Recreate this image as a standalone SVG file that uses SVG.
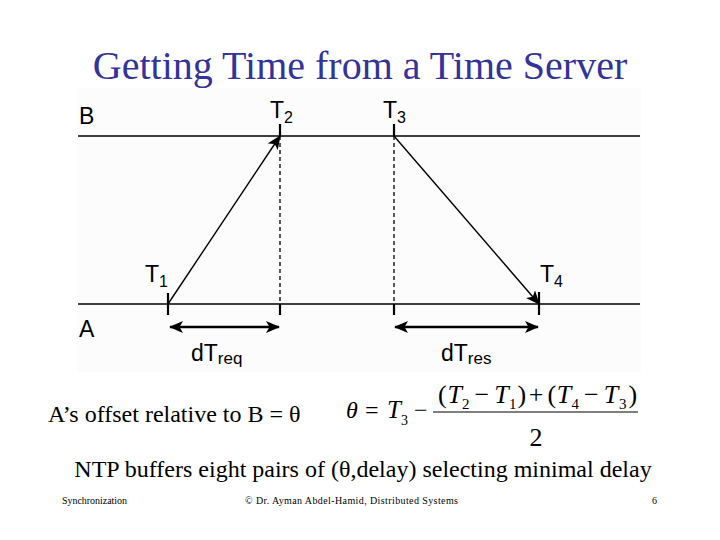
<svg xmlns="http://www.w3.org/2000/svg" width="720" height="540" viewBox="0 0 720 540">
<style>
.serif{font-family:"Liberation Serif","Times New Roman",serif;fill:#000}
.sans{font-family:"Liberation Sans",Arial,sans-serif;fill:#000}
.title{font-family:"Liberation Serif","Times New Roman",serif;fill:#333399;font-size:40px}
.lbl{font-size:23px}
.sub{font-size:16px}
.ax{stroke:#000;stroke-width:1.5;fill:none}
.tick{stroke:#000;stroke-width:2.2;fill:none}
.dash{stroke:#000;stroke-width:1.3;stroke-dasharray:4 3;fill:none}
.msg{stroke:#000;stroke-width:1.4;fill:none}
.span{stroke:#000;stroke-width:2.6;fill:none}
.it{font-style:italic}
.foot{font-size:10px}
</style>
<defs>
<marker id="ah" markerUnits="userSpaceOnUse" viewBox="0 0 14 12" refX="13" refY="6" markerWidth="14" markerHeight="12" orient="auto-start-reverse">
<path d="M0,0 L14,6 L0,12 L3.5,6 Z" fill="#000"/>
</marker>
</defs>
<rect width="720" height="540" fill="#fff"/>
<rect x="77" y="88" width="564" height="284" fill="#fcfcfc"/>

<g id="title"><text class="title" x="360" y="79" text-anchor="middle">Getting Time from a Time Server</text></g>

<g id="timelines">
<g id="lineB"><line class="ax" x1="78" y1="136" x2="640" y2="136"/><text class="sans" x="79" y="124" font-size="23">B</text></g>
<g id="lineA"><line class="ax" x1="78" y1="304" x2="640" y2="304"/><text class="sans" x="79" y="337" font-size="23">A</text></g>
</g>

<g id="T1"><line class="tick" x1="168" y1="293" x2="168" y2="315"/><text class="sans lbl" x="145" y="282">T<tspan class="sub" dy="5">1</tspan></text></g>
<g id="T2"><line class="tick" x1="280" y1="124" x2="280" y2="136"/><line class="dash" x1="280" y1="136" x2="280" y2="304"/><line class="tick" x1="280" y1="304" x2="280" y2="315"/><text class="sans lbl" x="270" y="118">T<tspan class="sub" dy="5">2</tspan></text></g>
<g id="T3"><line class="tick" x1="394" y1="124" x2="394" y2="136"/><line class="dash" x1="394" y1="136" x2="394" y2="304"/><line class="tick" x1="394" y1="304" x2="394" y2="315"/><text class="sans lbl" x="383" y="118">T<tspan class="sub" dy="5">3</tspan></text></g>
<g id="T4"><line class="tick" x1="539" y1="292" x2="539" y2="315"/><text class="sans lbl" x="540" y="282">T<tspan class="sub" dy="5">4</tspan></text></g>

<g id="connectors">
<line class="msg" x1="168" y1="304" x2="280" y2="136" marker-end="url(#ah)"/>
<line class="msg" x1="394" y1="136" x2="539" y2="304" marker-end="url(#ah)"/>
<line class="span" x1="170" y1="327" x2="279" y2="327" marker-start="url(#ah)" marker-end="url(#ah)"/>
<line class="span" x1="395" y1="327" x2="538" y2="327" marker-start="url(#ah)" marker-end="url(#ah)"/>
</g>

<g id="dTreq"><text class="sans" x="191" y="361" font-size="23">dT<tspan font-size="17" dy="3">req</tspan></text></g>
<g id="dTres"><text class="sans" x="441" y="361" font-size="23">dT<tspan font-size="17" dy="3">res</tspan></text></g>

<g id="offset"><text class="serif" x="48" y="422" font-size="24">A’s offset relative to B = θ</text></g>

<g id="formula" class="serif">
<text x="346" y="418" class="serif it" font-size="24">θ</text>
<text x="365" y="418" class="serif" font-size="24">=</text>
<text x="387" y="418" class="serif it" font-size="25">T</text>
<text x="401" y="425" class="serif" font-size="14">3</text>
<text x="414" y="418" class="serif" font-size="24">−</text>
<line x1="433" y1="412" x2="638" y2="412" stroke="#000" stroke-width="1"/>
<text class="serif" y="403" font-size="26"><tspan x="438">(</tspan><tspan x="447.4" class="it">T</tspan><tspan x="462" y="409" font-size="15">2</tspan><tspan x="474.5" y="403">−</tspan><tspan x="494.3" class="it">T</tspan><tspan x="509" y="409" font-size="15">1</tspan><tspan x="517.5" y="403">)</tspan><tspan x="528.8">+</tspan><tspan x="547.4">(</tspan><tspan x="556.8" class="it">T</tspan><tspan x="571.5" y="409" font-size="15">4</tspan><tspan x="583.9" y="403">−</tspan><tspan x="603.7" class="it">T</tspan><tspan x="619" y="409" font-size="15">3</tspan><tspan x="628.5" y="403">)</tspan></text>
<text x="536" y="446" class="serif" font-size="26" text-anchor="middle">2</text>
</g>

<g id="ntp"><text class="serif" x="363" y="477" font-size="24" text-anchor="middle">NTP buffers eight pairs of (θ,delay) selecting minimal delay</text></g>

<g id="footer">
<text class="serif foot" x="62" y="504" textLength="65" lengthAdjust="spacing">Synchronization</text>
<text class="serif foot" x="245" y="504" textLength="213" lengthAdjust="spacing">© Dr. Ayman Abdel-Hamid, Distributed Systems</text>
<text class="serif foot" x="652" y="504">6</text>
</g>
</svg>
